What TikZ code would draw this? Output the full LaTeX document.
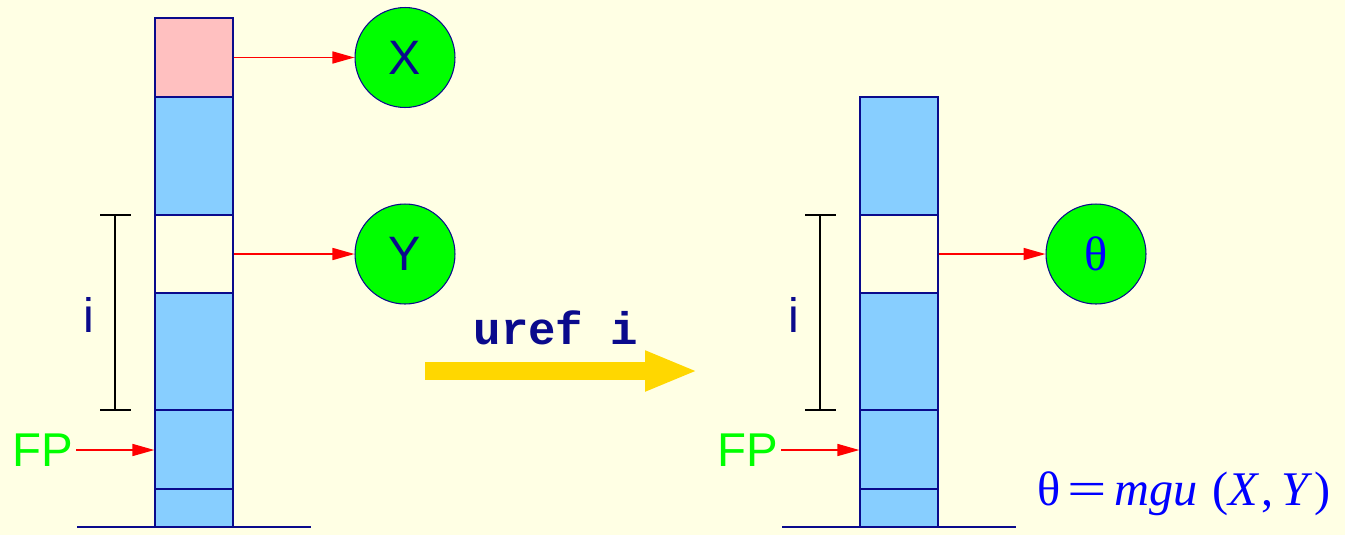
\documentclass[tikz,border=0pt]{standalone}
\usepackage{fontspec}
\setmainfont{Liberation Serif}
\setsansfont{Liberation Sans}
\setmonofont{Liberation Mono}
\usetikzlibrary{arrows.meta,positioning}
\definecolor{paper}{RGB}{255,255,228}
\definecolor{cellblue}{RGB}{135,206,255}
\definecolor{cellpink}{RGB}{255,192,192}
\definecolor{navy}{RGB}{10,10,140}
\definecolor{gold}{RGB}{255,215,0}
\newcommand{\bigsize}{\fontsize{27.5}{30}\selectfont}
\tikzset{cell/.style={rectangle,draw=navy,fill=cellblue,minimum width=1.56cm,inner sep=0pt,line width=.7pt},term/.style={circle,draw=navy,fill=green,minimum size=2cm,inner sep=0pt,line width=.6pt,font=\sffamily\bigsize,text=navy},ptr/.style={-{Triangle[length=4.4mm,width=2.4mm]},red,line width=.9pt},bar/.style={line width=1.3pt,black},floor/.style={navy,line width=.9pt},idx/.style={font=\sffamily\bigsize,text=navy,inner sep=0pt},fp/.style={font=\sffamily\fontsize{27}{30}\selectfont,text=green,inner sep=0pt},bigarrow/.style={gold,line width=3.6mm,-{Triangle[length=10.6mm,width=7.4mm]}},cmd/.style={font=\ttfamily\bfseries\fontsize{26}{28}\selectfont,text=navy,inner sep=0pt},formula/.style={font=\bigsize,text=blue,inner sep=0pt}}

\begin{document}
\begin{tikzpicture}[x=0.02cm,y=-0.02cm]
\fill[paper] (0,0) rectangle (1345,535);
\foreach \off/\sfx in {0/a,705/b}{
\foreach \n/\ya/\yb/\col in {2/97/215/cellblue,3/215/293/paper,4/293/410/cellblue,5/410/489/cellblue,6/489/527/cellblue}{
\pgfmathsetmacro{\h}{(\yb-\ya)*0.02}
\node[cell,fill=\col,minimum height=\h cm] (c\n\sfx) at (\off+194,{(\ya+\yb)/2}) {};
}
\draw[floor] (\off+77,527) -- (\off+311,527);
\draw[bar] (\off+100,215) -- (\off+131,215) (\off+115,215) -- (\off+115,410) (\off+100,410) -- (\off+131,410);
\node[idx] (i\sfx) at (\off+89,315) {i};
\node[fp,anchor=east] (fp\sfx) at (\off+73,450) {FP};
\draw[ptr] (fp\sfx.east) ++(3,0) -- (c5\sfx.west |- fp\sfx.east);
}
\node[cell,fill=cellpink,minimum height=1.58cm] (c1a) at (194,57.5) {};
\node[term] (X) at (405,57.5) {X};
\node[term] (Y) at (405,254) {Y};
\node[term,font=\rmfamily\bigsize,text=blue] (theta) at (1096,254) {θ};
\draw[ptr] (c1a.east) -- (X);
\draw[ptr] (c3a.east) -- (Y);
\draw[ptr] (c3b.east) -- (theta);
% the step
\coordinate (ua) at (425,371);
\coordinate (ub) at (698,371);
\draw[bigarrow] (ua) -- (ub);
\node[cmd,anchor=base] (uref) at (556,344) {uref i};
\node[formula,anchor=base] (mgu) at (1184,505) {θ\hspace{.15em}\scalebox{1.45}[1]{=}\hspace{.15em}\textit{mgu}\hspace{.3em}(\textit{X}\hspace{.05em},\hspace{.15em}\textit{Y}\hspace{.05em})};
\end{tikzpicture}
\end{document}
